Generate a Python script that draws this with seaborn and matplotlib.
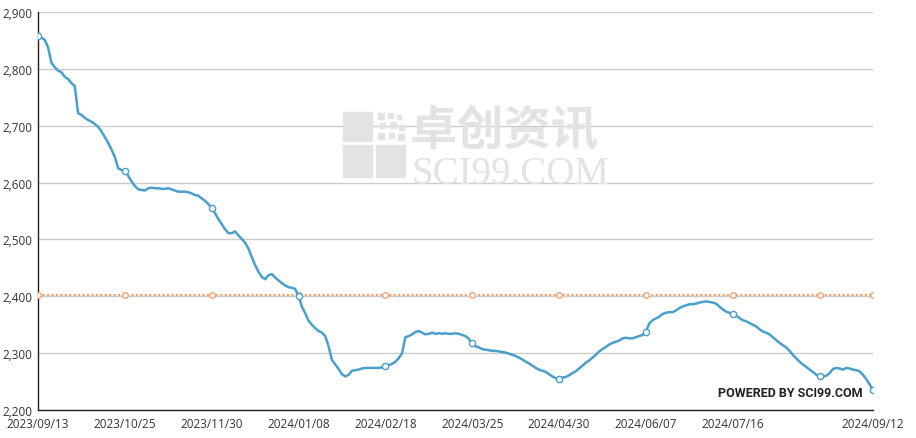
import numpy as np
import pandas as pd
import matplotlib
matplotlib.use("Agg")
import matplotlib.pyplot as plt
from matplotlib.patches import Rectangle
from matplotlib.ticker import FuncFormatter
import seaborn as sns

# ---------- DATA ----------
prices = [
    2858, 2855, 2851, 2838, 2811, 2803, 2797, 2794, 2786, 2782,
    2775, 2770, 2722, 2719, 2714, 2710, 2707, 2703, 2698, 2690,
    2680, 2670, 2658, 2645, 2625, 2622, 2620, 2612, 2602, 2594,
    2588, 2587, 2586, 2590, 2591, 2590, 2590, 2589, 2589, 2590,
    2588, 2586, 2584, 2584, 2584, 2583, 2581, 2578, 2577, 2572,
    2568, 2562, 2556, 2546, 2536, 2527, 2518, 2511, 2511, 2514,
    2507, 2501, 2494, 2484, 2469, 2455, 2443, 2434, 2430, 2437,
    2439, 2433, 2428, 2423, 2419, 2416, 2415, 2413, 2400, 2382,
    2370, 2357, 2350, 2344, 2339, 2336, 2330, 2312, 2288, 2280,
    2272, 2263, 2259, 2262, 2269, 2270, 2271, 2273, 2274, 2274,
    2274, 2274, 2274, 2275, 2278, 2279, 2281, 2285, 2291, 2300,
    2328, 2330, 2333, 2337, 2339, 2336, 2333, 2334, 2336, 2334,
    2335, 2334, 2335, 2334, 2334, 2335, 2334, 2332, 2330, 2325,
    2317, 2312, 2310, 2307, 2306, 2305, 2304, 2304, 2303, 2302,
    2301, 2299, 2297, 2295, 2292, 2289, 2285, 2282, 2278, 2274,
    2271, 2269, 2267, 2263, 2259, 2256, 2255, 2257, 2258, 2261,
    2265, 2268, 2273, 2278, 2283, 2287, 2292, 2297, 2303, 2307,
    2311, 2315, 2318, 2320, 2322, 2326, 2327, 2326, 2326, 2328,
    2330, 2332, 2338, 2352, 2358, 2361, 2364, 2369, 2371, 2372,
    2372, 2375, 2379, 2382, 2384, 2386, 2386, 2387, 2389, 2390,
    2391, 2390, 2389, 2387, 2382, 2377, 2373, 2371, 2369, 2366,
    2362, 2358, 2356, 2353, 2350, 2347, 2342, 2338, 2336, 2333,
    2328, 2323, 2318, 2314, 2310, 2304, 2297, 2291, 2285, 2280,
    2276, 2271, 2267, 2262, 2260, 2259, 2260, 2265, 2272, 2274,
    2273, 2271, 2274, 2273, 2271, 2270, 2268, 2262, 2254, 2245,
    2235,
]
average_price = 2403

tick_labels = ["2023/09/13", "2023/10/25", "2023/11/30", "2024/01/08",
               "2024/02/18", "2024/03/25", "2024/04/30", "2024/06/07",
               "2024/07/16", "2024/09/12"]
y_ticks = [2200, 2300, 2400, 2500, 2600, 2700, 2800, 2900]

df = pd.DataFrame({"idx": np.arange(len(prices)), "price": prices})
df["avg"] = average_price

n = len(prices)
marks = list(range(0, n, 26)) + [n - 1]
tick_pos = list(range(0, 26 * 9, 26)) + [n - 1]

# ---------- STYLE ----------
sns.set_style("white")
plt.rcParams["font.family"] = ["Open Sans", "DejaVu Sans"]

W, H = 916, 439
fig = plt.figure(figsize=(W / 100, H / 100), dpi=100)
ax = fig.add_axes([38 / W, 1 - 411 / H, (873 - 38) / W, (411 - 13) / H])
ax.patch.set_alpha(0)

# ---------- WATERMARK ----------
wm = "#e3e3e3"
def px_rect(x0, y0, x1, y1):
    fig.patches.append(Rectangle((x0 / W, 1 - y1 / H), (x1 - x0) / W, (y1 - y0) / H,
                                 transform=fig.transFigure, color=wm, zorder=0))

px_rect(343, 113, 372, 142)
px_rect(343, 146, 372, 178)
px_rect(376, 146, 405, 178)
for (dx, dy, s) in [(378, 114, 6), (388, 114, 5), (397, 116, 4), (380, 124, 5),
                    (390, 123, 6), (399, 126, 5), (378, 134, 6), (389, 134, 5), (398, 135, 6)]:
    px_rect(dx, dy, dx + s, dy + s)
fig.text(410 / W, 1 - 155 / H, "卓创资讯", family=["Noto Sans CJK SC"], fontsize=34,
         fontweight="bold", color=wm, va="bottom", ha="left", zorder=0)
fig.text(411 / W, 1 - 156 / H, "SCI99.COM", family=["Liberation Serif"], fontsize=28,
         color=wm, va="top", ha="left", zorder=0)

# ---------- LINES ----------
blue = "#4a9fcc"
orange = "#f4a470"
ax.plot(df["idx"], df["avg"], color=orange, lw=1.6, ls=(0, (1, 1)),
        marker="o", markevery=marks, ms=4, mfc="white", mec=orange, mew=1, zorder=3)
sns.lineplot(data=df, x="idx", y="price", ax=ax, color=blue, lw=1.8,
             marker="o", markevery=marks, ms=4.5, mfc="white", mec=blue, mew=1, zorder=4)

# ---------- AXES ----------
ax.set_xlim(0, n - 1)
ax.set_ylim(2200, 2900)
ax.set_yticks(y_ticks)
ax.yaxis.set_major_formatter(FuncFormatter(lambda v, p: f"{int(v):,}"))
ax.set_xticks(tick_pos)
ax.set_xticklabels(tick_labels)
ax.grid(axis="y", color="#cccccc", lw=1)
ax.set_axisbelow(True)
ax.set_xlabel("")
ax.set_ylabel("")
for s in ["top", "right"]:
    ax.spines[s].set_visible(False)
for s in ["left", "bottom"]:
    ax.spines[s].set_color("#222222")
    ax.spines[s].set_linewidth(1)
ax.tick_params(axis="both", direction="out", length=4, width=1, color="#222222",
               labelsize=8.5, labelcolor="#333333")
ax.tick_params(axis="y", pad=0)
ax.tick_params(axis="x", pad=1)

fig.text(863 / W, 1 - 394 / H, "POWERED BY SCI99.COM", family=["Roboto", "DejaVu Sans"],
         fontsize=9, fontweight="bold", color="#222222", ha="right", va="center", zorder=5)

fig.savefig("out.png", dpi=100)
